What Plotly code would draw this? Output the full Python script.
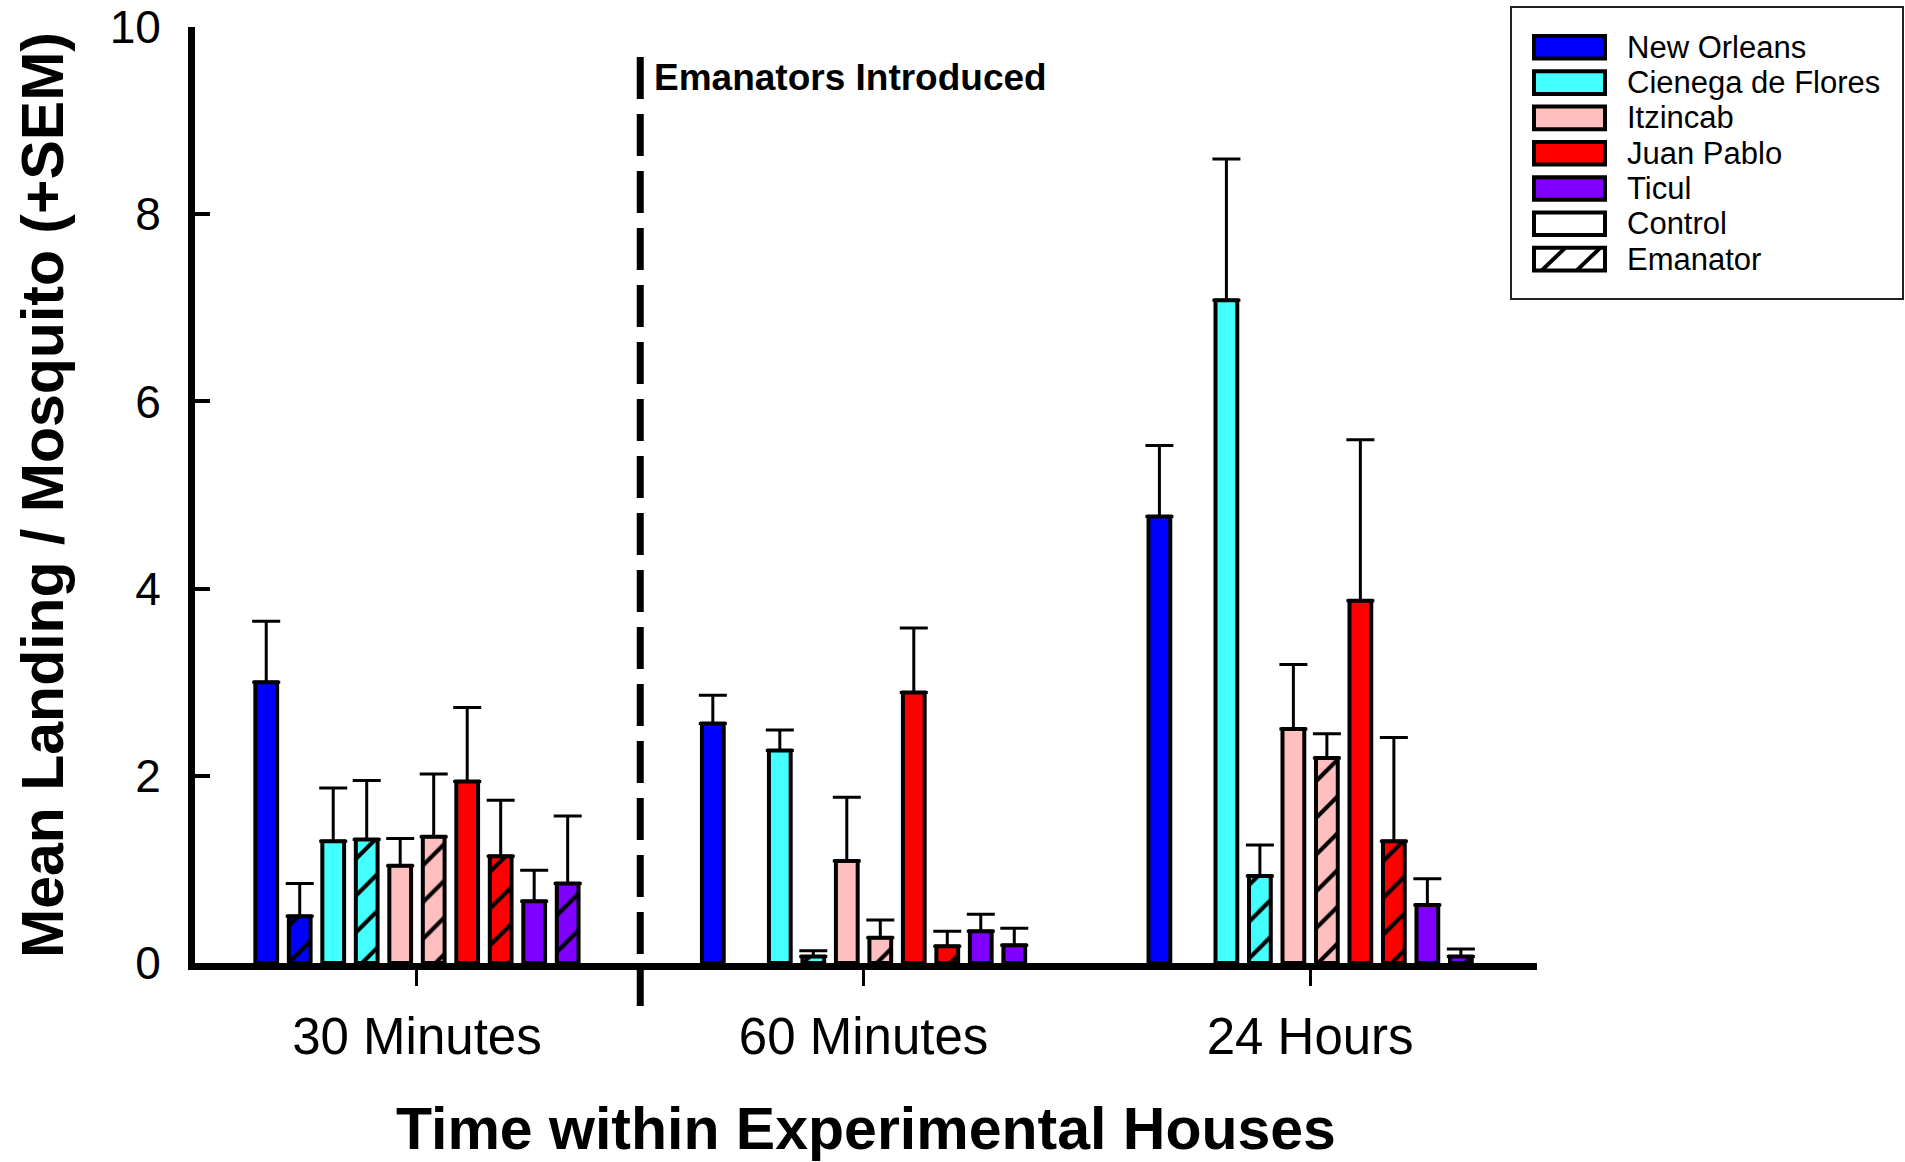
import plotly.graph_objects as go

# ---------------- data ----------------
groups = ["30 Minutes", "60 Minutes", "24 Hours"]
populations = ["New Orleans", "Cienega de Flores", "Itzincab", "Juan Pablo", "Ticul"]
pop_colors = ["#0000FF", "#44FFFF", "#FFBFBF", "#FF0000", "#7F00FF"]

control_mean = {
    "New Orleans":       [3.00, 2.56, 4.77],
    "Cienega de Flores": [1.30, 2.27, 7.08],
    "Itzincab":          [1.04, 1.09, 2.50],
    "Juan Pablo":        [1.94, 2.89, 3.87],
    "Ticul":             [0.66, 0.34, 0.62],
}
control_sem = {
    "New Orleans":       [0.65, 0.30, 0.76],
    "Cienega de Flores": [0.57, 0.22, 1.51],
    "Itzincab":          [0.29, 0.68, 0.69],
    "Juan Pablo":        [0.79, 0.69, 1.72],
    "Ticul":             [0.33, 0.18, 0.28],
}
emanator_mean = {
    "New Orleans":       [0.50, None, None],
    "Cienega de Flores": [1.32, 0.07, 0.93],
    "Itzincab":          [1.35, 0.27, 2.19],
    "Juan Pablo":        [1.14, 0.18, 1.30],
    "Ticul":             [0.85, 0.19, 0.07],
}
emanator_sem = {
    "New Orleans":       [0.35, None, None],
    "Cienega de Flores": [0.63, 0.06, 0.33],
    "Itzincab":          [0.67, 0.19, 0.26],
    "Juan Pablo":        [0.60, 0.16, 1.11],
    "Ticul":             [0.72, 0.18, 0.08],
}

legend_labels = populations + ["Control", "Emanator"]
y_ticks = [0, 2, 4, 6, 8, 10]

FONT = "Arial, 'Liberation Sans', sans-serif"

# ---------------- figure ----------------
fig = go.Figure()

def zeros_like(vals):
    return [0 if v is not None else None for v in vals]

for pop, col in zip(populations, pop_colors):
    fig.add_trace(go.Bar(
        name=pop + " Control", x=groups, y=control_mean[pop],
        marker=dict(color=col, line=dict(color="black", width=4)),
        error_y=dict(type="data", symmetric=False, array=control_sem[pop],
                     arrayminus=zeros_like(control_sem[pop]),
                     color="black", thickness=3, width=14),
        showlegend=False,
    ))
    fig.add_trace(go.Bar(
        name=pop + " Emanator", x=groups, y=emanator_mean[pop],
        marker=dict(color=col, line=dict(color="black", width=4),
                    pattern=dict(shape="/", fgcolor="black", bgcolor=col,
                                 size=26, solidity=0.16, fgopacity=1)),
        error_y=dict(type="data", symmetric=False, array=emanator_sem[pop],
                     arrayminus=zeros_like(emanator_sem[pop]),
                     color="black", thickness=3, width=14),
        showlegend=False,
    ))

# plot-area pixel geometry (used for layout decorations only)
FW, FH = 1905, 1162
L, R, T, B = 195, 1537, 27, 963
W, H = R - L, B - T

def pxx(p):
    return (p - L) / W

def pxy(p):
    return (B - p) / H

shapes = []
annotations = []

# dashed "Emanators Introduced" line between the first two groups
shapes.append(dict(type="line", xref="x", yref="paper", x0=0.5, x1=0.5,
                   y0=pxy(57), y1=pxy(1006),
                   line=dict(color="black", width=7, dash="42px,15px")))
annotations.append(dict(text="<b>Emanators Introduced</b>", xref="x", yref="paper",
                        x=0.5, y=pxy(77), xanchor="left", yanchor="middle",
                        xshift=12, showarrow=False,
                        font=dict(family=FONT, size=37, color="black")))

# manual legend
shapes.append(dict(type="rect", xref="paper", yref="paper",
                   x0=pxx(1511), x1=pxx(1903), y0=pxy(299), y1=pxy(7),
                   line=dict(color="#222222", width=2), fillcolor="white", layer="below"))
row0, drow = 47.3, 35.3
swatch_fill = pop_colors + ["white", "white"]
for i, (lab, fc) in enumerate(zip(legend_labels, swatch_fill)):
    yc = row0 + i * drow
    shapes.append(dict(type="rect", xref="paper", yref="paper",
                       x0=pxx(1534), x1=pxx(1605), y0=pxy(yc + 11.3), y1=pxy(yc - 11.3),
                       line=dict(color="black", width=4), fillcolor=fc))
    if lab == "Emanator":
        for xb in (1542, 1577):
            shapes.append(dict(type="line", xref="paper", yref="paper",
                               x0=pxx(xb), x1=pxx(xb + 23), y0=pxy(yc + 11), y1=pxy(yc - 11),
                               line=dict(color="black", width=4)))
    annotations.append(dict(text=lab, xref="paper", yref="paper",
                            x=pxx(1625), y=pxy(yc), xanchor="left", yanchor="middle",
                            showarrow=False,
                            font=dict(family=FONT, size=31, color="black")))

fig.update_layout(
    width=FW, height=FH,
    margin=dict(l=L, r=FW - R, t=T, b=FH - B, pad=0, autoexpand=False),
    paper_bgcolor="white", plot_bgcolor="white",
    barmode="group", bargap=0.25, bargroupgap=0.35,
    showlegend=False,
    font=dict(family=FONT, color="black"),
    shapes=shapes, annotations=annotations,
)

fig.update_xaxes(
    range=[-0.497, 2.508], showgrid=False, zeroline=False, automargin=False,
    showline=True, linecolor="black", linewidth=7,
    ticks="outside", ticklen=16, tickwidth=3, tickcolor="black",
    tickfont=dict(family=FONT, size=51, color="black"),
    ticklabelstandoff=7,
    title=dict(text="Time within Experimental Houses",
               font=dict(family=FONT, size=59, color="black", weight="bold"),
               standoff=46),
)
fig.update_yaxes(
    range=[0, 10], tickvals=y_ticks, showgrid=False, zeroline=False, automargin=False,
    showline=True, linecolor="black", linewidth=7,
    ticks="inside", ticklen=15, tickwidth=4, tickcolor="black",
    tickfont=dict(family=FONT, size=46, color="black"),
    ticklabelstandoff=18,
    title=dict(text="Mean Landing / Mosquito (+SEM)",
               font=dict(family=FONT, size=59, color="black", weight="bold"),
               standoff=29),
)

fig.write_html("out.html")
